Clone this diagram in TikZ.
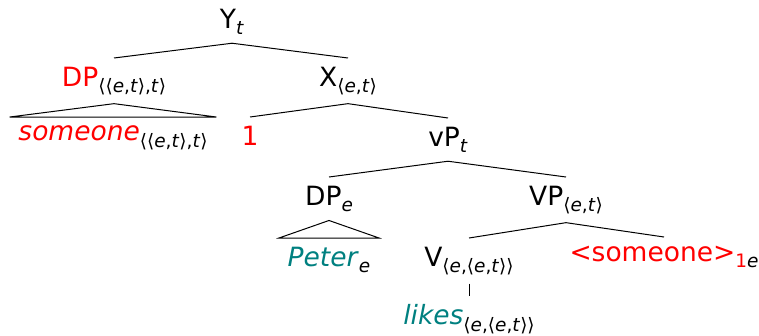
\documentclass[tikz,border=0pt]{standalone}
\usepackage{fontspec}
\setmainfont{DejaVu Sans}
\usetikzlibrary{positioning}
\definecolor{termteal}{RGB}{0,128,128}
\newcommand{\tp}[1]{\raisebox{-6.5pt}{\fontsize{18.5}{18.5}\selectfont#1}}
\newcommand{\tyE}{\textit{e}}
\newcommand{\tyT}{\textit{t}}

\begin{document}
\begin{tikzpicture}[
    x=1pt, y=-1pt,
    cat/.style={
        anchor=north,
        inner sep=8.5pt,
        font=\fontsize{26.5}{30}\selectfont
    },
    branch/.style={line width=1pt},
    roof/.style={line width=1pt}
]
    \useasboundingbox (0,0) rectangle (759,335);

    % nodes, level by level
    \node[cat] (yt) at (232,0) {Y\tp{\tyT}};

    \node[cat] (dpq) at (114,58) {\textcolor{red}{DP}\tp{⟨⟨\tyE,\tyT⟩,\tyT⟩}};
    \node[cat] (xp) at (348,58) {X\tp{⟨\tyE,\tyT⟩}};

    \node[cat] (someone) at (113,117) {\textcolor{red}{\textit{someone}}\tp{⟨⟨\tyE,\tyT⟩,\tyT⟩}};
    \node[cat] (idx) at (250,117) {\textcolor{red}{1}};
    \node[cat] (vpt) at (448,118) {vP\tp{\tyT}};

    \node[cat] (dpe) at (329,177) {DP\tp{\tyE}};
    \node[cat] (vpet) at (566,177) {VP\tp{⟨\tyE,\tyT⟩}};

    \node[cat] (peter) at (329,238) {\textcolor{termteal}{\textit{Peter}}\tp{\tyE}};
    \node[cat] (verb) at (469,238) {V\tp{⟨\tyE,⟨\tyE,\tyT⟩⟩}};
    \node[cat] (trace) at (664,237) {\textcolor{red}{<someone>}\tp{\textcolor{red}{1}\tyE}};

    \node[cat] (likes) at (469,296) {\textcolor{termteal}{\textit{likes}}\tp{⟨\tyE,⟨\tyE,\tyT⟩⟩}};

    % branches
    \draw[branch] (dpq.north) -- (yt.south) -- (xp.north);
    \draw[branch] (idx.north) -- (xp.south) -- (vpt.north);
    \draw[branch] (dpe.north) -- (vpt.south) -- (vpet.north);
    \draw[branch] (verb.north) -- (vpet.south) -- (trace.north);
    \draw[branch] (verb.south) -- (likes.north);

    % roofs
    \draw[roof] (dpq.south) -- (someone.north west) -- (someone.north east) -- cycle;
    \draw[roof] (dpe.south) -- (peter.north west) -- (peter.north east) -- cycle;
\end{tikzpicture}
\end{document}
